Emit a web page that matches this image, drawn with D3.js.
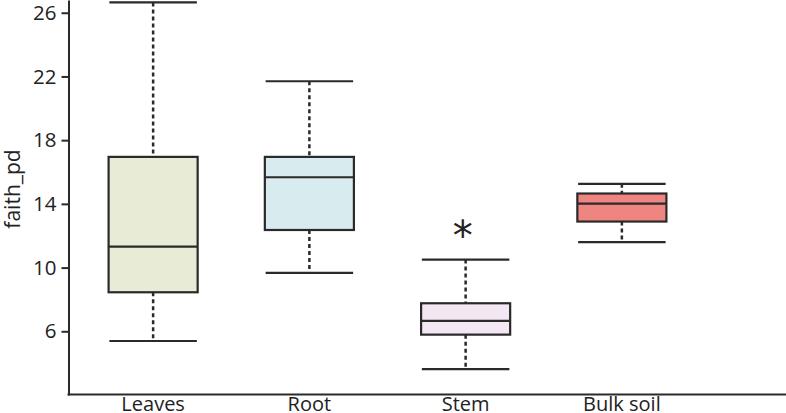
<!DOCTYPE html>
<html><head><meta charset="utf-8">
<script src="https://cdn.jsdelivr.net/npm/d3@7"></script>
<style>body{margin:0;background:#fff;} svg{display:block;} text{font-family:"Open Sans",sans-serif;fill:#222;}</style>
</head><body>
<svg id="c" width="786" height="413"></svg>
<script>
const categories = ["Leaves", "Root", "Stem", "Bulk soil"];
const whiskerLow = [5.39, 9.67, 3.63, 11.6];
const q1 = [8.45, 12.36, 5.79, 12.89];
const median = [11.32, 15.67, 6.65, 14.02];
const q3 = [16.95, 16.95, 7.76, 14.65];
const whiskerHigh = [26.65, 21.7, 10.5, 15.26];
const fills = ["#e8ecd6", "#d8ebef", "#f3e7f3", "#ef8580"];
const yTicks = [6, 10, 14, 18, 22, 26];
const significance = ["", "", "*", ""];

const svg = d3.select("#c");
const stroke = "#2a2a2a";
const x = d3.scaleBand().domain(categories).range([75, 700]).paddingInner(0).paddingOuter(0);
const y = d3.scaleLinear().domain([2, 26.8]).range([395, 0]);
const axisX = 68.5, axisY = 394.5;

const data = categories.map((c, i) => ({c, lo: whiskerLow[i], q1: q1[i], med: median[i], q3: q3[i], hi: whiskerHigh[i], fill: fills[i], sig: significance[i]}));
const bw = x.bandwidth() * 0.57;
const cw = x.bandwidth() * 0.56;

const g = svg.append("g").selectAll("g").data(data).join("g")
  .attr("transform", d => `translate(${x(d.c) + x.bandwidth()/2},0)`);

g.append("line").attr("x1", 0).attr("x2", 0).attr("y1", d => y(d.hi)).attr("y2", d => y(d.q3))
  .attr("stroke", stroke).attr("stroke-width", 2.5).attr("stroke-dasharray", "4,3");
g.append("line").attr("x1", 0).attr("x2", 0).attr("y1", d => y(d.q1)).attr("y2", d => y(d.lo))
  .attr("stroke", stroke).attr("stroke-width", 2.5).attr("stroke-dasharray", "4,3");
g.append("line").attr("x1", -cw/2).attr("x2", cw/2).attr("y1", d => y(d.hi)).attr("y2", d => y(d.hi))
  .attr("stroke", stroke).attr("stroke-width", 2.2);
g.append("line").attr("x1", -cw/2).attr("x2", cw/2).attr("y1", d => y(d.lo)).attr("y2", d => y(d.lo))
  .attr("stroke", stroke).attr("stroke-width", 2.2);
g.append("rect").attr("x", -bw/2).attr("width", bw)
  .attr("y", d => y(d.q3)).attr("height", d => y(d.q1) - y(d.q3))
  .attr("fill", d => d.fill).attr("stroke", stroke).attr("stroke-width", 2.2);
g.append("line").attr("x1", -bw/2).attr("x2", bw/2).attr("y1", d => y(d.med)).attr("y2", d => y(d.med))
  .attr("stroke", stroke).attr("stroke-width", 2.2);
g.filter(d => d.sig).append("text").attr("x", -3).attr("y", d => y(d.hi) - 10)
  .attr("text-anchor", "middle").attr("font-size", 40).style("font-family", "DejaVu Sans")
  .text(d => d.sig);

const ya = svg.append("g").attr("transform", `translate(${axisX},0)`)
  .call(d3.axisLeft(y).tickValues(yTicks).tickSize(7).tickSizeOuter(0).tickPadding(5).tickFormat(d3.format("d")));
ya.select(".domain").attr("stroke", stroke).attr("stroke-width", 2);
ya.selectAll(".tick line").attr("stroke", stroke).attr("stroke-width", 2);
ya.selectAll(".tick text").attr("font-size", 20.5).style("fill", "#222");

const xa = svg.append("g").attr("transform", `translate(0,${axisY})`)
  .call(d3.axisBottom(x).tickSize(0).tickPadding(0));
xa.select(".domain").remove();
xa.append("line").attr("x1", axisX - 1).attr("x2", 786).attr("y1", 0).attr("y2", 0)
  .attr("stroke", stroke).attr("stroke-width", 2);
xa.selectAll(".tick text").attr("font-size", 20).attr("y", 16).attr("dy", null).style("fill", "#222");

svg.append("text").attr("transform", "translate(20,189) rotate(-90)")
  .attr("text-anchor", "middle").attr("font-size", 21).text("faith_pd");
</script>
</body></html>
